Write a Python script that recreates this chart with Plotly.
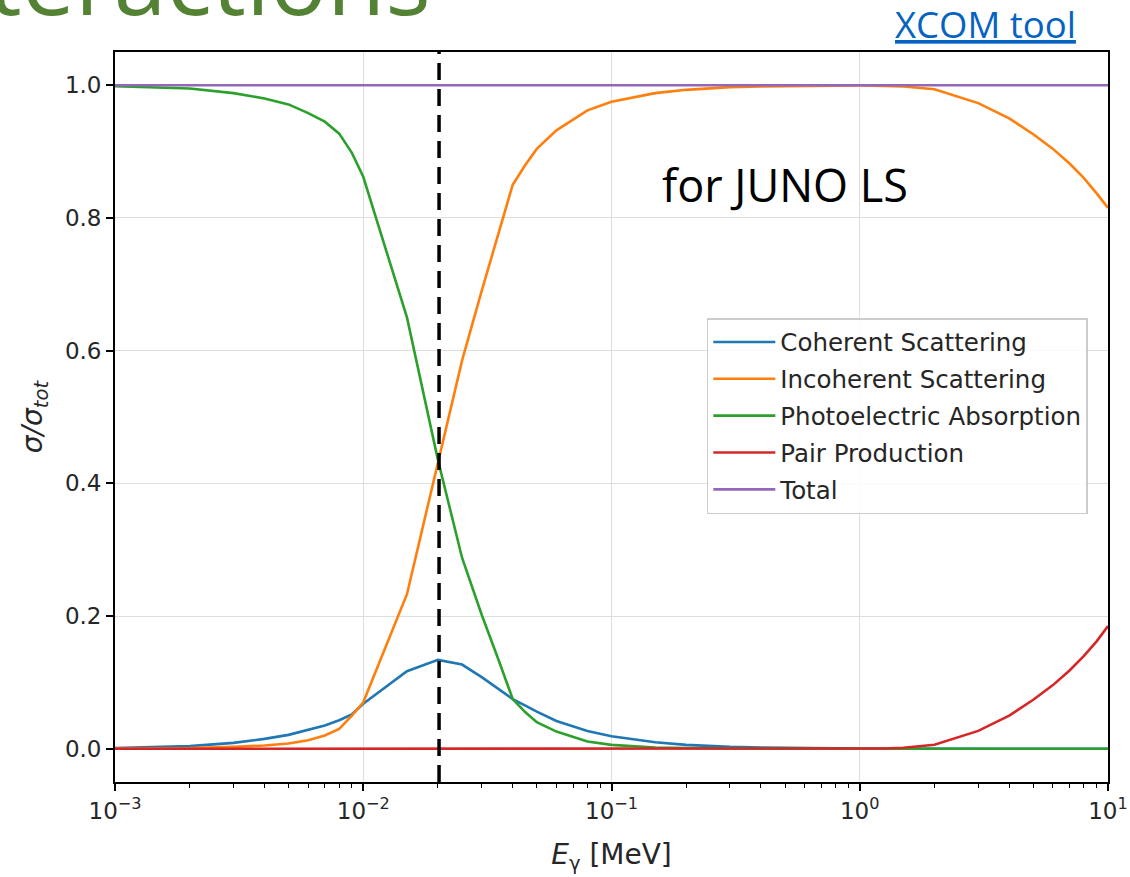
import plotly.graph_objects as go

# Photon energy grid [MeV]
energy = [0.001, 0.0015, 0.002, 0.003, 0.004, 0.005, 0.006, 0.007, 0.008, 0.009, 0.01, 0.015,
          0.02, 0.025, 0.03, 0.035, 0.04, 0.045, 0.05, 0.06, 0.08, 0.1, 0.15, 0.2, 0.3,
          0.4, 0.5, 0.6, 0.8, 1.0, 1.022, 1.25, 1.5, 2.0, 3.0, 4.0, 5.0, 6.0,
          7.0, 8.0, 9.0, 10.0]

# Fraction of the total cross section for each process
coherent = [0.0012, 0.0025, 0.004, 0.009, 0.015, 0.021, 0.029, 0.035, 0.043, 0.052, 0.068, 0.117,
            0.134, 0.127, 0.108, 0.09, 0.075, 0.065, 0.056, 0.042, 0.027, 0.019, 0.01, 0.006, 0.003,
            0.002, 0.0013, 0.001, 0.0006, 0.0004, 0.0004, 0.0003, 0.0002, 0.0001, 0.0, 0.0, 0.0, 0.0,
            0.0, 0.0, 0.0, 0.0]
incoherent = [0.0003, 0.0005, 0.001, 0.003, 0.005, 0.008, 0.013, 0.02, 0.03, 0.05, 0.07, 0.233,
              0.431, 0.585, 0.69, 0.775, 0.85, 0.88, 0.904, 0.932, 0.962, 0.975, 0.988, 0.993, 0.997,
              0.998, 0.9987, 0.999, 0.9994, 0.9996, 0.9996, 0.999, 0.998, 0.994, 0.973, 0.95, 0.926, 0.904,
              0.882, 0.86, 0.837, 0.815]
photoelectric = [0.9985, 0.997, 0.995, 0.988, 0.98, 0.971, 0.958, 0.945, 0.927, 0.898, 0.862, 0.65,
                 0.435, 0.288, 0.202, 0.135, 0.075, 0.055, 0.04, 0.026, 0.011, 0.006, 0.002, 0.001, 0.0003,
                 0.0, 0.0, 0.0, 0.0, 0.0, 0.0, 0.0, 0.0, 0.0, 0.0, 0.0, 0.0, 0.0,
                 0.0, 0.0, 0.0, 0.0]
pair = [0.0] * 31 + [0.0005, 0.0015, 0.006, 0.027, 0.05, 0.074, 0.096,
                     0.118, 0.14, 0.162, 0.185]
total = [1.0] * len(energy)

series_names = ["Coherent Scattering", "Incoherent Scattering",
                "Photoelectric Absorption", "Pair Production", "Total"]
series_values = [coherent, incoherent, photoelectric, pair, total]
series_colors = ["#1f77b4", "#ff7f0e", "#2ca02c", "#d62728", "#9467bd"]

# Energy marked by the dashed line [MeV]
marked_energy = 0.0202

x_tick_vals = [0.001, 0.01, 0.1, 1, 10]
x_tick_text = ["10<sup>\u22123</sup>", "10<sup>\u22122</sup>", "10<sup>\u22121</sup>",
               "10<sup>0</sup>", "10<sup>1</sup>"]
y_tick_vals = [0.0, 0.2, 0.4, 0.6, 0.8, 1.0]
y_range = [-0.05, 1.05]

AX_FONT = "DejaVu Sans"
TXT = "#262626"

fig = go.Figure()
for i, (name, vals, col) in enumerate(zip(series_names, series_values, series_colors)):
    fig.add_trace(go.Scatter(
        x=energy, y=vals, mode="lines", name=name,
        line=dict(color=col, width=2.6),
        legendgroup=f"g{i}",
    ))

# dashed marker line spanning the full axis height
fig.add_trace(go.Scatter(
    x=[marked_energy, marked_energy], y=y_range, mode="lines",
    line=dict(color="black", width=3.5, dash="17px,9px"),
    showlegend=False, hoverinfo="skip",
))

minor_vals = [m * 10 ** d for d in range(-3, 1) for m in range(2, 10)]

fig.update_xaxes(
    type="log", range=[-3, 1], automargin=False,
    tickvals=x_tick_vals, ticktext=x_tick_text,
    ticks="outside", ticklen=7, tickwidth=1.5, tickcolor="black",
    minor=dict(tickvals=minor_vals, ticks="outside", ticklen=4, tickwidth=1,
               tickcolor="black", showgrid=False),
    showline=True, linecolor="black", linewidth=1.8, mirror=True,
    showgrid=True, gridcolor="#dedede", gridwidth=1.3,
    zeroline=False,
    tickfont=dict(family=AX_FONT, size=23, color=TXT),
    title=dict(text="<i>E</i><sub>\u03b3</sub> [MeV]",
               font=dict(family=AX_FONT, size=28, color=TXT), standoff=22),
)
fig.update_yaxes(
    range=y_range, tickvals=y_tick_vals, tickformat=".1f", automargin=False,
    ticks="outside", ticklen=7, tickwidth=1.5, tickcolor="black",
    showline=True, linecolor="black", linewidth=1.8, mirror=True,
    showgrid=True, gridcolor="#dedede", gridwidth=1.3,
    zeroline=False,
    tickfont=dict(family=AX_FONT, size=23, color=TXT),
    title=dict(text="<i>\u03c3/\u03c3<sub>tot</sub></i>",
               font=dict(family=AX_FONT, size=28, color=TXT), standoff=14),
)

fig.update_layout(
    width=1130, height=877, autosize=False,
    margin=dict(l=115, r=22, t=52, b=95),
    paper_bgcolor="white", plot_bgcolor="white",
    showlegend=True,
    legend=dict(
        x=0.596, y=0.6356, xanchor="left", yanchor="top",
        bgcolor="rgba(255,255,255,0.85)", bordercolor="#cccccc", borderwidth=1.5,
        font=dict(family=AX_FONT, size=24.5, color=TXT),
        traceorder="grouped", tracegroupgap=2, itemwidth=62,
    ),
    annotations=[
        dict(text="for JUNO LS", xref="paper", yref="paper",
             x=0.5487, y=0.819, xanchor="left", yanchor="middle", showarrow=False,
             font=dict(family="Open Sans", size=45, color="black")),
        dict(text="<u>XCOM tool</u>", xref="paper", yref="paper",
             x=0.7835, y=1.038, xanchor="left", yanchor="middle", showarrow=False,
             font=dict(family="Open Sans", size=36.5, color="#0563c1")),
        dict(text="Interactions", xref="paper", yref="paper",
             x=0.3205, y=1.0095, xanchor="right", yanchor="bottom", showarrow=False,
             font=dict(family="Open Sans", size=95, color="#548235")),
    ],
)

fig.write_html("out.html")
